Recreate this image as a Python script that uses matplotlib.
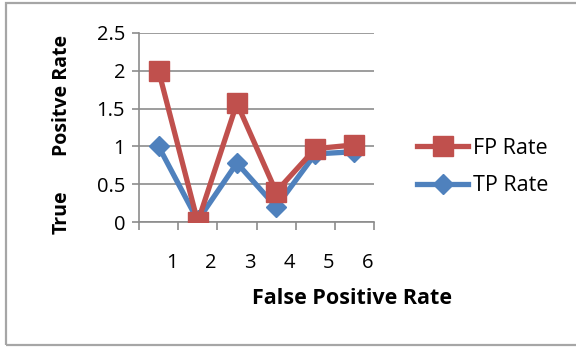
import matplotlib.pyplot as plt
from matplotlib.patches import Rectangle
import numpy as np

CATEGORIES = ["1", "2", "3", "4", "5", "6"]
FP_RATE = [2.0, 0.0, 1.57, 0.4, 0.97, 1.02]
TP_RATE = [1.0, 0.02, 0.78, 0.2, 0.9, 0.93]

RED = "#C0504D"
BLUE = "#4F81BD"
GRID = "#8c8c8c"

plt.rcParams["font.family"] = ["Open Sans", "DejaVu Sans"]

fig = plt.figure(figsize=(5.76, 3.47), dpi=100)
fig.patches.append(
    Rectangle((6 / 576, 0.005), 1.2, 0.985, transform=fig.transFigure,
              fill=False, edgecolor="#a6a6a6", linewidth=1.6)
)
ax = fig.add_axes([139 / 576, 1 - 222 / 347, 235 / 576, 189 / 347])

x = np.arange(len(CATEGORIES))
ax.plot(x, TP_RATE, color=BLUE, linewidth=3.8, marker="D", markersize=10,
        label="TP Rate", zorder=3)
ax.plot(x, FP_RATE, color=RED, linewidth=3.8, marker="s", markersize=15,
        label="FP Rate", zorder=4)

ax.set_xlim(-0.5, len(CATEGORIES) - 0.5)
ax.set_ylim(0, 2.5)
ax.set_yticks(np.arange(0, 2.51, 0.5), ["0", "0.5", "1", "1.5", "2", "2.5"])
ax.yaxis.grid(True, color=GRID, linewidth=1.2)
ax.set_axisbelow(True)

# category labels sit a bit right of each bin centre, ticks on bin edges
ax.set_xticks(x + 0.33, CATEGORIES)
ax.set_xticks(np.arange(-0.5, len(CATEGORIES)), minor=True)
ax.tick_params(axis="x", which="major", length=0, pad=22, labelsize=14.5)
ax.tick_params(axis="x", which="minor", length=6, width=1.2, color=GRID, direction="out")
ax.tick_params(axis="y", length=5, width=1.2, color=GRID, labelsize=14.5, pad=5)

for side in ("top", "right"):
    ax.spines[side].set_visible(False)
for side in ("left", "bottom"):
    ax.spines[side].set_color(GRID)
    ax.spines[side].set_linewidth(1.2)

ax.set_xlabel("False Positive Rate", fontsize=15.5, fontweight="bold")
ax.xaxis.set_label_coords(0.905, -0.35)
fig.text(62 / 576, 1 - 212 / 347, "True", rotation=90, fontsize=14,
         fontweight="bold", ha="center", va="center")
fig.text(62 / 576, 1 - 95 / 347, "Positve Rate", rotation=90, fontsize=14,
         fontweight="bold", ha="center", va="center")

handles, labels = ax.get_legend_handles_labels()
fig.legend(handles[::-1], labels[::-1], loc="center left",
           bbox_to_anchor=(398 / 576, 1 - 167 / 347), frameon=False,
           fontsize=15.5, handlelength=2.35, handletextpad=0.25, labelspacing=0.75)

fig.savefig("out.png", dpi=100)
